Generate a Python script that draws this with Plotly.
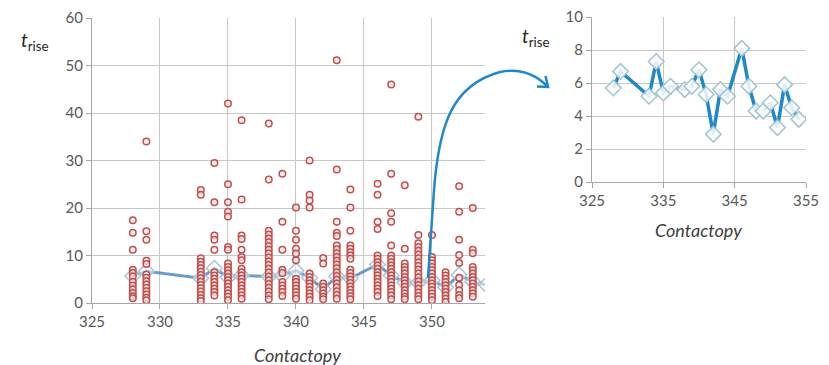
import plotly.graph_objects as go

W, H = 829, 365

# ---- raw data: t_rise values per Contactopy column (left panel) ----
c328 = [17.4, 14.8, 11.2, 7.0, 6.3, 5.6, 4.5, 3.7, 2.9, 2.1, 1.4, 1.0]
c329 = [34.0, 15.1, 13.3, 8.9, 8.2, 6.0, 5.3, 4.6, 3.9, 3.2, 2.5, 1.8, 1.1, 0.6]
c333 = [23.8, 22.8, 9.4, 8.7, 8.0, 7.3, 6.6, 5.9, 5.2, 4.5, 3.8, 3.1, 2.4, 1.7, 1.0, 0.4]
c334 = [29.5, 21.2, 14.2, 13.3, 11.2, 6.5, 5.8, 5.1, 4.4, 3.7, 3.0, 2.3, 1.6]
c335 = [42.0, 25.0, 21.2, 19.2, 18.2, 11.8, 11.2, 8.3, 7.6, 6.9, 6.2, 5.5, 4.8, 4.1, 3.4, 2.7, 2.0, 1.3, 0.6]
c336 = [38.5, 21.8, 14.2, 13.5, 11.2, 9.7, 9.0, 7.2, 6.5, 5.8, 5.1, 4.4, 3.7, 3.0, 2.3, 1.6, 0.9]
c338 = [37.8, 26.0, 15.2, 14.4, 13.6, 12.8, 12.0, 11.2, 10.4, 9.6, 8.8, 8.0, 7.2, 6.4, 5.6, 4.8, 4.0, 3.2, 2.4, 1.6, 0.8]
c339 = [27.2, 17.1, 11.2, 7.0, 6.3, 4.4, 3.7, 3.0, 2.3, 1.5]
c340 = [20.1, 15.2, 13.3, 11.4, 10.4, 9.0, 5.1, 4.4, 3.7, 3.0, 2.3, 1.6, 0.9]
c341 = [30.0, 22.8, 21.6, 20.1, 6.2, 5.5, 4.8, 4.1, 3.4, 2.7, 2.0, 1.3, 0.6]
c342 = [9.5, 8.3, 4.1, 3.4, 2.7, 2.0, 1.3, 0.8]
c343 = [51.1, 28.1, 17.1, 14.8, 14.1, 12.1, 11.3, 10.5, 9.7, 8.9, 8.1, 7.3, 6.5, 5.7, 4.9, 4.1, 3.3, 2.5, 1.7, 0.9]
c344 = [23.9, 20.1, 15.2, 12.1, 11.4, 10.7, 10.0, 9.3, 7.0, 6.3, 5.6, 4.9, 4.2, 3.5, 2.8, 2.1, 1.4, 0.8]
c346 = [25.1, 22.8, 17.1, 15.6, 10.0, 9.3, 8.6, 7.9, 7.2, 6.5, 5.8, 5.1, 4.4, 3.7, 3.0, 2.3, 1.5]
c347 = [46.0, 27.2, 18.9, 17.1, 12.1, 10.0, 9.3, 8.6, 7.9, 7.2, 6.5, 5.8, 5.1, 4.4, 3.7, 3.0, 2.3, 1.6, 0.8]
c348 = [24.8, 11.4, 8.3, 7.6, 6.9, 6.2, 5.5, 4.8, 4.1, 3.4, 2.7, 2.0, 1.3, 0.8]
c349 = [39.2, 14.3, 12.6, 11.8, 11.0, 10.2, 9.4, 8.6, 7.8, 7.0, 6.2, 5.4, 4.6, 3.8, 3.0, 2.2, 1.5, 0.8]
c350 = [14.3, 9.7, 9.0, 8.3, 7.6, 6.9, 6.2, 5.5, 4.8, 4.1, 3.4, 2.7, 2.0, 1.3, 0.6]
c351 = [6.5, 5.8, 5.1, 4.4, 3.7, 3.0, 2.3, 1.6, 0.9, 0.2]
c352 = [24.6, 19.2, 13.3, 10.1, 8.4, 5.3, 3.8, 2.7, 1.7, 1.0]
c353 = [20.0, 11.2, 10.5, 7.6, 6.9, 6.2, 5.5, 4.8, 4.1, 3.4, 2.7, 2.0, 1.3]

columns = {
    328: c328, 329: c329, 333: c333, 334: c334, 335: c335, 336: c336,
    338: c338, 339: c339, 340: c340, 341: c341, 342: c342, 343: c343,
    344: c344, 346: c346, 347: c347, 348: c348, 349: c349, 350: c350,
    351: c351, 352: c352, 353: c353,
}

# ---- mean t_rise per Contactopy (right panel, and overlay on left) ----
mean_x = [328, 329, 333, 334, 335, 336, 338, 339, 340, 341, 342, 343,
          344, 346, 347, 348, 349, 350, 351, 352, 353, 354]
mean_y = [5.7, 6.7, 5.2, 7.3, 5.4, 5.8, 5.6, 5.8, 6.8, 5.3, 2.9, 5.6,
          5.2, 8.1, 5.8, 4.3, 4.3, 4.8, 3.3, 5.9, 4.5, 3.8]

left_xticks = [325, 330, 335, 340, 345, 350]
left_yticks = [0, 10, 20, 30, 40, 50, 60]
right_xticks = [325, 335, 345, 355]
right_yticks = [0, 2, 4, 6, 8, 10]

sx, sy = [], []
for cx, vals in columns.items():
    sx += [cx] * len(vals)
    sy += vals

def px(x):
    return x / W

def py(y):
    return 1 - y / H

fig = go.Figure()

# left: mean line with diamonds (behind the points)
fig.add_trace(go.Scatter(
    x=mean_x, y=mean_y, mode="lines+markers", xaxis="x", yaxis="y",
    line=dict(color="rgba(70,130,190,0.8)", width=3),
    marker=dict(symbol="diamond", size=12, color="rgba(255,255,255,0.55)",
                line=dict(color="#a9c6d6", width=1.5)),
    showlegend=False, hoverinfo="skip"))

# left: individual points
fig.add_trace(go.Scatter(
    x=sx, y=sy, mode="markers", xaxis="x", yaxis="y",
    marker=dict(symbol="circle", size=6.5, color="rgba(255,235,235,0.7)",
                line=dict(color="#c0504d", width=1.5)),
    showlegend=False))

# right: means
fig.add_trace(go.Scatter(
    x=mean_x, y=mean_y, mode="lines+markers", xaxis="x2", yaxis="y2",
    line=dict(color="#1f88c8", width=3.5),
    marker=dict(symbol="diamond", size=12, color="rgba(255,255,255,0.85)",
                line=dict(color="#9fc4cf", width=1.5)),
    showlegend=False))

tickfont = dict(family="Lato", size=15, color="#595959")
grid = "#c8c8c8"
axcol = "#a6a6a6"
common = dict(showgrid=True, gridcolor=grid, gridwidth=1,
              showline=True, linecolor=axcol, linewidth=1,
              ticks="outside", ticklen=5, tickcolor=axcol, tickwidth=1,
              tickfont=tickfont, zeroline=False, automargin=False)

fig.update_layout(
    template="none",
    width=W, height=H,
    margin=dict(l=0, r=0, t=0, b=0, pad=0, autoexpand=False),
    paper_bgcolor="white", plot_bgcolor="white",
    showlegend=False,
    xaxis=dict(domain=[px(92), px(485)], range=[325, 353.9],
               tickvals=left_xticks, anchor="y", **common),
    yaxis=dict(domain=[py(303), py(18)], range=[0, 60],
               tickvals=left_yticks, anchor="x", **common),
    xaxis2=dict(domain=[px(592), px(806)], range=[325, 355],
                tickvals=right_xticks, anchor="y2", **common),
    yaxis2=dict(domain=[py(182), py(17)], range=[0, 10],
                tickvals=right_yticks, anchor="x2", **common),
)

titlefont = dict(family="Lato", size=18, color="#404040")
for tx, ty in [(297, 355), (698, 230)]:
    fig.add_annotation(x=px(tx), y=py(ty), xref="paper", yref="paper",
                       xanchor="center", yanchor="middle",
                       text="<i>Contactopy</i>", showarrow=False, font=titlefont)

yfont = dict(family="Lato", size=19, color="#262626")
for tx, ty in [(35, 41), (536, 37)]:
    fig.add_annotation(x=px(tx), y=py(ty), xref="paper", yref="paper",
                       xanchor="center", yanchor="middle",
                       text="<i>t</i><sub>rise</sub>", showarrow=False, font=yfont)

# connecting arrow (decoration)
def pt(x, y):
    return f"{px(x):.5f},{py(y):.5f}"

path = ("M " + pt(428, 278) + " L " + pt(434, 190) +
        " C " + pt(439, 125) + " " + pt(452, 85) + " " + pt(500, 72) +
        " C " + pt(520, 68) + " " + pt(536, 75) + " " + pt(547, 86))
fig.add_shape(type="path", xref="paper", yref="paper", path=path,
              line=dict(color="#1f88c8", width=2.5))
head = "M " + pt(545.5, 76) + " L " + pt(548, 87) + " L " + pt(537, 86.5)
fig.add_shape(type="path", xref="paper", yref="paper", path=head,
              line=dict(color="#1f88c8", width=2.5))

fig.write_html("out.html")
